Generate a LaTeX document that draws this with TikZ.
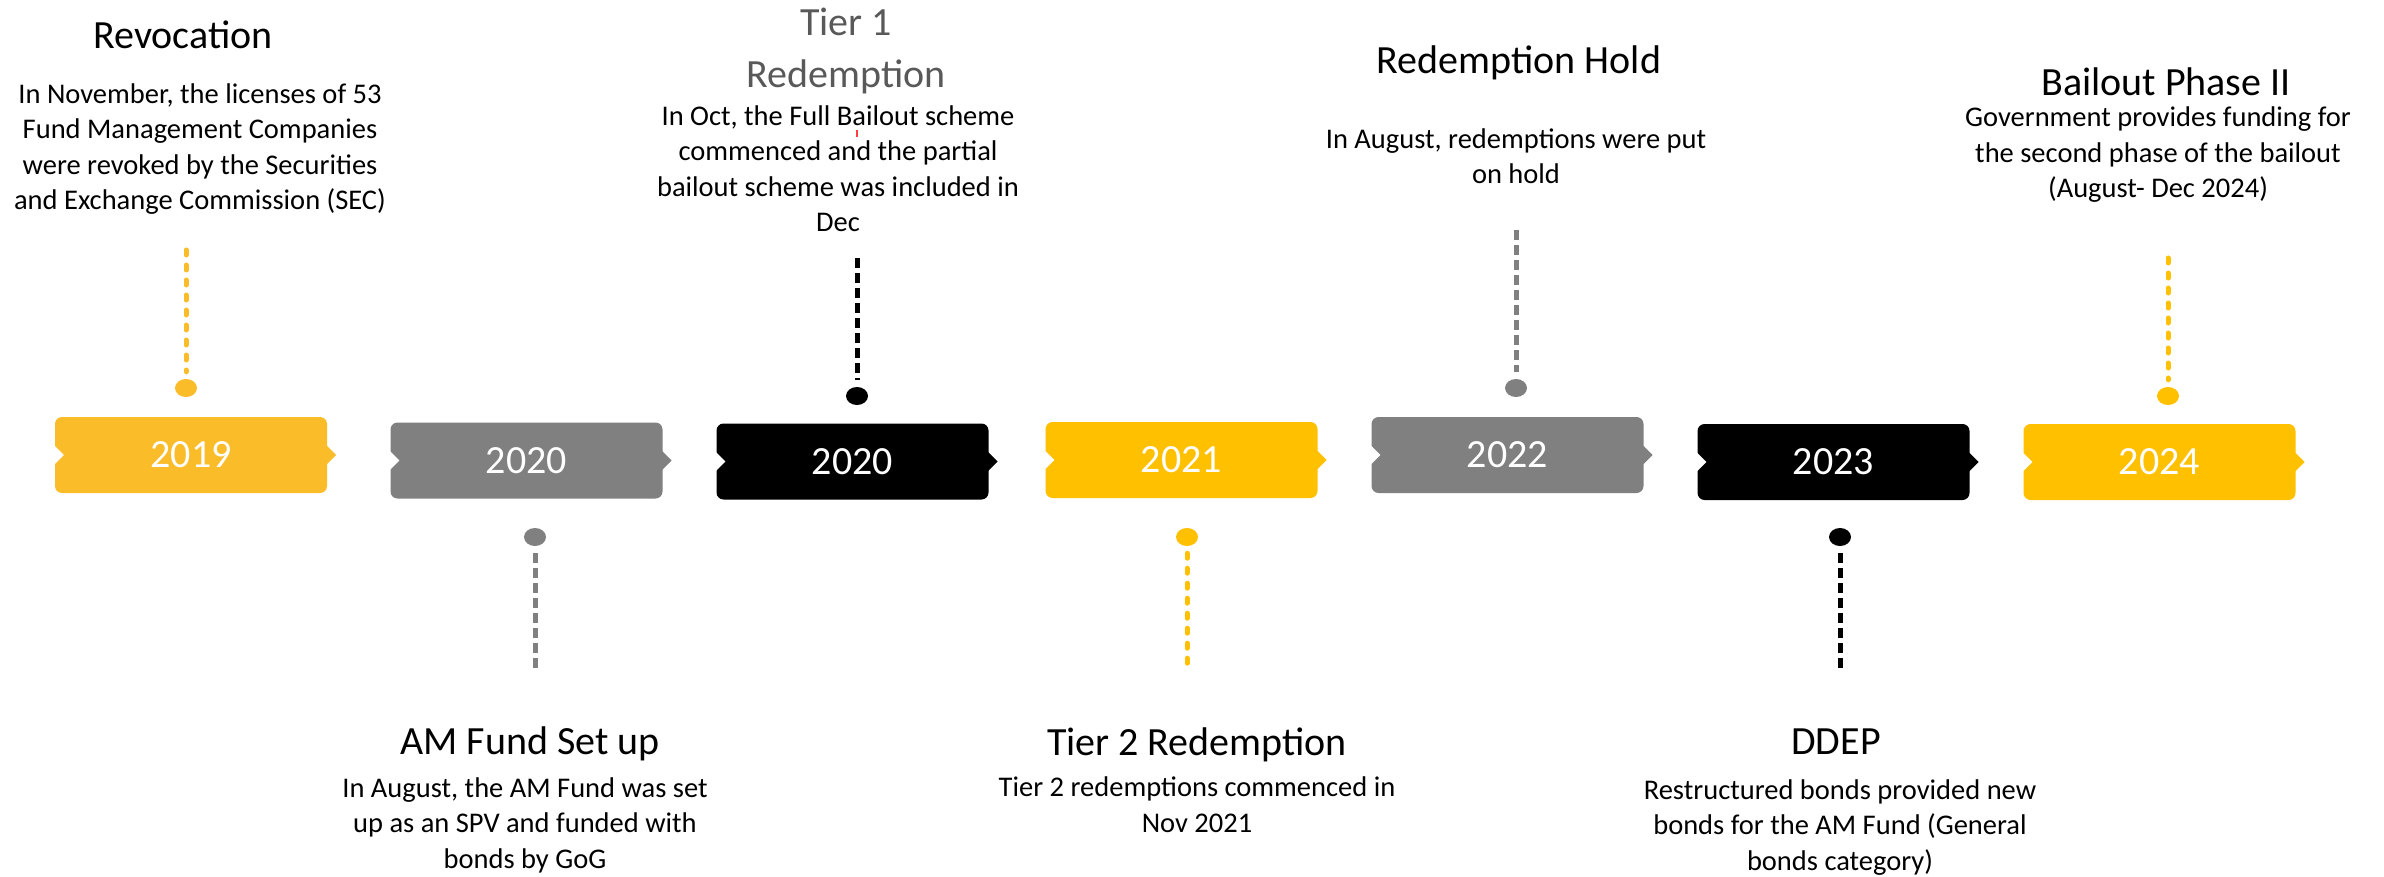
\documentclass[tikz,border=0pt]{standalone}
\usepackage{fontspec}
\setmainfont{Carlito}
\usetikzlibrary{shapes.geometric}

\definecolor{amber}{RGB}{250,188,40}
\definecolor{gold}{RGB}{255,192,0}
\definecolor{midgray}{RGB}{128,128,128}
\definecolor{headgray}{RGB}{89,89,89}

\def \boxw {272pt}
\def \boxh {76pt}
\def \notch {9pt}
\def \gap {7pt}

\tikzset{
  yearbox/.style={rectangle, rounded corners=7pt, minimum width=\boxw, minimum height=\boxh,
    inner sep=0pt, text=white, font=\fontsize{40}{48}\selectfont},
  pin/.style={ellipse, minimum width=22pt, minimum height=18pt, inner sep=0pt},
  stem/.style={line width=5pt, dash pattern=on 10pt off 5pt},
  roundstem/.style={line width=5pt, line cap=round, dash pattern=on 5pt off 10pt},
  % multi-line nodes sit on the baseline of their last line
  headline/.style={font=\fontsize{40}{52}\selectfont, anchor=base, inner sep=0pt, align=center},
  blurb/.style={font=\fontsize{28.5}{35.5}\selectfont, anchor=base, inner sep=0pt, align=center},
}

% cut the notch on the left, add the point on the right
\newcommand\yeartabs[2]{%
  \fill[white] ([xshift=-1pt,yshift=10pt]#1.west) -- ([xshift=\notch]#1.west)
    -- ([xshift=-1pt,yshift=-10pt]#1.west) -- cycle;
  \fill[#2] ([xshift=-1pt,yshift=10pt]#1.east) -- ([xshift=\notch]#1.east)
    -- ([xshift=-1pt,yshift=-10pt]#1.east) -- cycle;
}

\begin{document}
\begin{tikzpicture}[x=1pt, y=-1pt]
\useasboundingbox (0,0) rectangle (2384,877);

% year tabs
\node[yearbox, fill=amber] (y2019) at (191,455) {2019};
\yeartabs{y2019}{amber}
\node[yearbox, fill=midgray] (y2020a) at (526.5,460.5) {2020};
\yeartabs{y2020a}{midgray}
\node[yearbox, fill=black] (y2020b) at (852.5,461.5) {2020};
\yeartabs{y2020b}{black}
\node[yearbox, fill=gold] (y2021) at (1181.5,460) {2021};
\yeartabs{y2021}{gold}
\node[yearbox, fill=midgray] (y2022) at (1507.5,455) {2022};
\yeartabs{y2022}{midgray}
\node[yearbox, fill=black] (y2023) at (1833.5,462) {2023};
\yeartabs{y2023}{black}
\node[yearbox, fill=gold] (y2024) at (2159.5,462) {2024};
\yeartabs{y2024}{gold}

% pins above the line
\node[pin, fill=amber] (p2019) at (186,388) {};
\coordinate (e2019) at (186,250);
\draw[roundstem, amber, shorten >=\gap] (e2019) -- (p2019.north); % revocation
\node[pin, fill=black] (p2020b) at (857,396) {};
\coordinate (e2020b) at (857,258);
\draw[stem, black, shorten >=\gap] (e2020b) -- (p2020b.north); % tier 1
\node[pin, fill=midgray] (p2022) at (1516,388) {};
\coordinate (e2022) at (1516,230);
\draw[stem, midgray, shorten >=\gap] (e2022) -- (p2022.north); % hold
\node[pin, fill=gold] (p2024) at (2168,396) {};
\coordinate (e2024) at (2168,258);
\draw[roundstem, gold, shorten >=\gap] (e2024) -- (p2024.north); % phase II

% pins below the line
\node[pin, fill=midgray] (p2020a) at (535,537) {};
\coordinate (e2020a) at (535,673);
\draw[stem, midgray, shorten <=\gap] (p2020a.south) -- (e2020a); % AM fund
\node[pin, fill=gold] (p2021) at (1187,537) {};
\coordinate (e2021) at (1187,673);
\draw[roundstem, gold, shorten <=\gap] (p2021.south) -- (e2021); % tier 2
\node[pin, fill=black] (p2023) at (1840,537) {};
\coordinate (e2023) at (1840,673);
\draw[stem, black, shorten <=\gap] (p2023.south) -- (e2023); % DDEP

% event texts, top row
\node[headline] (h2019) at (183,49) {Revocation};
\node[blurb] (t2019) at (200,210) {In November, the licenses of 53\\Fund Management Companies\\were revoked by the Securities\\and Exchange Commission (SEC)};
\node[headline, text=headgray] (h2020b) at (846,88) {Tier 1\\Redemption};
\node[blurb] (t2020b) at (838,232) {In Oct, the Full Bailout scheme\\commenced and the partial\\bailout scheme was included in\\Dec};
\draw[red!75, line width=2pt] (857,130) -- (857,137);
\node[headline] (h2022) at (1519,74) {Redemption Hold};
\node[blurb] (t2022) at (1516,184) {In August, redemptions were put\\on hold};
\node[headline] (h2024) at (2166,96) {Bailout Phase II};
\node[blurb] (t2024) at (2158,198) {Government provides funding for\\the second phase of the bailout\\(August- Dec 2024)};

% event texts, bottom row
\node[headline] (h2020a) at (530,754) {AM Fund Set up};
\node[blurb] (t2020a) at (525,868) {In August, the AM Fund was set\\up as an SPV and funded with\\bonds by GoG};
\node[headline] (h2021) at (1197,755) {Tier 2 Redemption};
\node[blurb] (t2021) at (1197,832) {Tier 2 redemptions commenced in\\Nov 2021};
\node[headline] (h2023) at (1836,754) {DDEP};
\node[blurb] (t2023) at (1840,870) {Restructured bonds provided new\\bonds for the AM Fund (General\\bonds category)};
\end{tikzpicture}
\end{document}
